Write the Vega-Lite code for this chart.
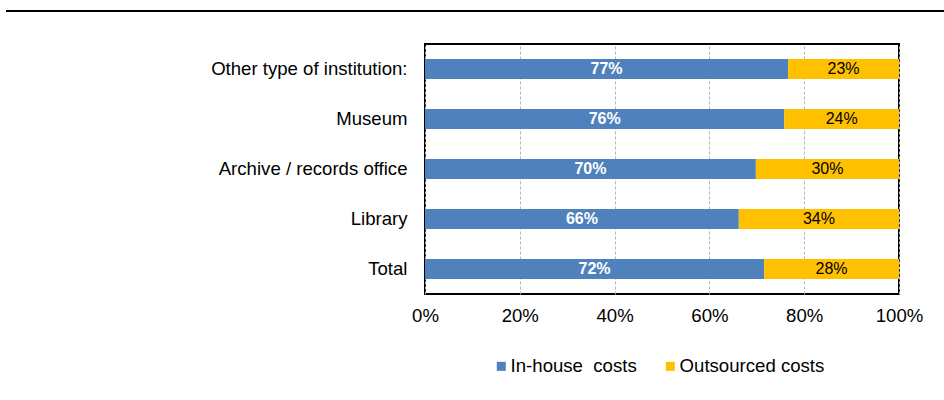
{
  "$schema": "https://vega.github.io/schema/vega-lite/v6.json",
  "width": 474,
  "height": 250,
  "padding": {"left": 4, "top": 10, "right": 0, "bottom": 0},
  "background": "white",
  "config": {
    "font": "Liberation Sans",
    "view": {"stroke": "black", "strokeWidth": 2},
    "axis": {"labelFont": "Liberation Sans", "labelColor": "black", "labelFontSize": 18.6, "domain": false, "ticks": false, "labelLimit": 400},
    "legend": {"labelFont": "Liberation Sans", "labelFontSize": 18.6, "labelColor": "black", "labelLimit": 400}
  },
  "datasets": {
    "costs": [
      {"category": "Other type of institution:", "type": "In-house\u00a0 costs", "value": 0.766},
      {"category": "Other type of institution:", "type": "Outsourced costs", "value": 0.234},
      {"category": "Museum", "type": "In-house\u00a0 costs", "value": 0.758},
      {"category": "Museum", "type": "Outsourced costs", "value": 0.242},
      {"category": "Archive / records office", "type": "In-house\u00a0 costs", "value": 0.698},
      {"category": "Archive / records office", "type": "Outsourced costs", "value": 0.302},
      {"category": "Library", "type": "In-house\u00a0 costs", "value": 0.662},
      {"category": "Library", "type": "Outsourced costs", "value": 0.338},
      {"category": "Total", "type": "In-house\u00a0 costs", "value": 0.7155},
      {"category": "Total", "type": "Outsourced costs", "value": 0.2845}
    ],
    "topline": [{"x1": -0.884, "x2": 1.1, "y": 1.132}]
  },
  "layer": [
    {
      "data": {"name": "costs"},
      "layer": [
        {
          "mark": {"type": "bar"},
          "encoding": {
            "y": {"field": "category", "type": "nominal", "sort": ["Other type of institution:", "Museum", "Archive / records office", "Library", "Total"], "title": null,
              "scale": {"paddingInner": 0.6, "paddingOuter": 0.3},
              "axis": {"labelPadding": 18, "grid": false}},
            "x": {"field": "value", "type": "quantitative", "stack": "zero", "title": null,
              "scale": {"domain": [0, 1], "nice": false},
              "axis": {"format": ".0%", "values": [0, 0.2, 0.4, 0.6, 0.8, 1], "labelPadding": 12, "grid": true, "gridColor": "#b4b4b4", "gridDash": [3, 2], "gridWidth": 1, "labelFlush": false}},
            "color": {"field": "type", "type": "nominal", "title": null,
              "scale": {"domain": ["In-house\u00a0 costs", "Outsourced costs"], "range": ["#4F81BD", "#FFC000"]},
              "legend": {"orient": "none", "legendX": 67, "legendY": 313, "direction": "horizontal", "symbolType": "square", "symbolSize": 81, "symbolStrokeWidth": 0, "columnPadding": 24, "labelOffset": 0, "padding": 0}},
            "order": {"field": "type", "sort": "ascending"}
          }
        },
        {
          "mark": {"type": "text", "fontWeight": "bold", "fontSize": 16, "color": "white", "baseline": "middle", "align": "center"},
          "encoding": {
            "y": {"field": "category", "type": "nominal", "sort": ["Other type of institution:", "Museum", "Archive / records office", "Library", "Total"]},
            "x": {"field": "value", "type": "quantitative", "stack": "zero", "bandPosition": 0.5, "scale": {"domain": [0, 1], "nice": false}},
            "order": {"field": "type", "sort": "ascending"},
            "text": {"condition": {"test": "datum.type !== 'In-house\u00a0 costs'", "value": ""}, "field": "value", "type": "quantitative", "format": ".0%"}
          }
        },
        {
          "mark": {"type": "text", "fontSize": 16, "color": "black", "baseline": "middle", "align": "center"},
          "encoding": {
            "y": {"field": "category", "type": "nominal", "sort": ["Other type of institution:", "Museum", "Archive / records office", "Library", "Total"]},
            "x": {"field": "value", "type": "quantitative", "stack": "zero", "bandPosition": 0.5, "scale": {"domain": [0, 1], "nice": false}},
            "order": {"field": "type", "sort": "ascending"},
            "text": {"condition": {"test": "datum.type === 'In-house\u00a0 costs'", "value": ""}, "field": "value", "type": "quantitative", "format": ".0%"}
          }
        }
      ]
    },
    {
      "data": {"name": "topline"},
      "mark": {"type": "rule", "color": "black", "strokeWidth": 2, "clip": false},
      "encoding": {
        "x": {"field": "x1", "type": "quantitative", "scale": {"domain": [0, 1], "nice": false}},
        "x2": {"field": "x2"},
        "y": {"field": "y", "type": "quantitative", "scale": {"domain": [0, 1], "nice": false}, "axis": null}
      }
    }
  ],
  "resolve": {"scale": {"y": "independent"}, "axis": {"y": "independent"}}
}
